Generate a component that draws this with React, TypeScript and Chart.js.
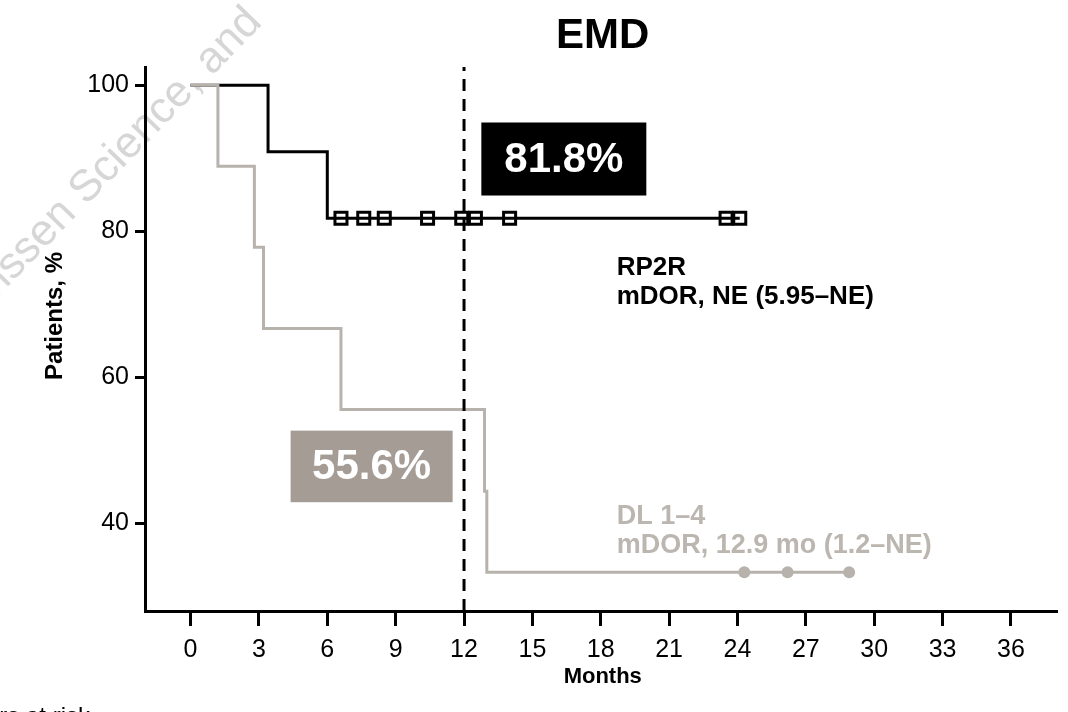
import React, { useEffect, useRef } from "react";
import { Chart, registerables } from "chart.js";

Chart.register(...registerables);

// ---- data ----
const xTickValues = [0, 3, 6, 9, 12, 15, 18, 21, 24, 27, 30, 33, 36];
const yTickValues = [40, 60, 80, 100];

const rp2rTimes = [0, 3.4, 6.0, 24.1];
const rp2rSurv = [100, 90.9, 81.8, 81.8];
const rp2rCensorTimes = [6.6, 7.6, 8.5, 10.4, 11.9, 12.5, 14.0, 23.5, 24.1];
const rp2rCensorSurv = [81.8, 81.8, 81.8, 81.8, 81.8, 81.8, 81.8, 81.8, 81.8];

const dlTimes = [0, 1.2, 2.8, 3.2, 6.6, 12.9, 13.0, 28.9];
const dlSurv = [100, 88.9, 77.8, 66.7, 55.6, 44.4, 33.3, 33.3];
const dlCensorTimes = [24.3, 26.2, 28.9];
const dlCensorSurv = [33.3, 33.3, 33.3];

const landmarkTime = [12, 12];
const landmarkY = [28, 102.5];

const rp2rLandmarkLabel = "81.8%";
const dlLandmarkLabel = "55.6%";
const rp2rLabel = ["RP2R", "mDOR, NE (5.95–NE)"];
const dlLabel = ["DL 1–4", "mDOR, 12.9 mo (1.2–NE)"];
const titleText = "EMD";
const xTitle = "Months";
const yTitle = "Patients, %";
const watermark = "Janssen Science, and";
const atRiskText = "Numbers at risk";

const FONT = "'Liberation Sans', Arial, Helvetica, sans-serif";
const GREY_LINE = "#b8b2ad";
const GREY_BOX = "#a59c96";
const GREY_TEXT = "#bcb6b0";

const toPts = (xs: number[], ys: number[]) => xs.map((x, i) => ({ x, y: ys[i] }));

const textPlugin = {
  id: "textPlugin",
  beforeDraw(chart: any) {
    const ctx = chart.ctx;
    ctx.save();
    ctx.fillStyle = "#ffffff";
    ctx.fillRect(0, 0, chart.width, chart.height);
    // watermark
    ctx.translate(86, 206);
    ctx.rotate(-0.8);
    ctx.font = `44px ${FONT}`;
    ctx.fillStyle = "#d6d6d6";
    ctx.textAlign = "left";
    ctx.textBaseline = "alphabetic";
    const pre = ctx.measureText("Janssen ").width;
    ctx.fillText(watermark, -pre, 0);
    ctx.restore();
  },
  afterDraw(chart: any) {
    const ctx = chart.ctx;
    const xs = chart.scales.x;
    const ys = chart.scales.y;
    const ca = chart.chartArea;
    ctx.save();
    // title
    ctx.fillStyle = "#000";
    ctx.font = `bold 42px ${FONT}`;
    ctx.textAlign = "center";
    ctx.textBaseline = "middle";
    ctx.fillText(titleText, (ca.left + ca.right) / 2 + 2, 36);
    // axis titles
    ctx.font = `bold 22px ${FONT}`;
    ctx.fillText(xTitle, (ca.left + ca.right) / 2 + 2, 677);
    ctx.save();
    ctx.translate(55, 316);
    ctx.rotate(-Math.PI / 2);
    ctx.font = `bold 24px ${FONT}`;
    ctx.fillText(yTitle, 0, 0);
    ctx.restore();
    // at risk
    ctx.font = `24px ${FONT}`;
    ctx.textAlign = "right";
    ctx.textBaseline = "alphabetic";
    ctx.fillText(atRiskText, 90, 724);

    // landmark boxes
    const box = (x0: number, x1: number, y0: number, y1: number, color: string, label: string) => {
      const l = xs.getPixelForValue(x0);
      const r = xs.getPixelForValue(x1);
      const t = ys.getPixelForValue(y0);
      const b = ys.getPixelForValue(y1);
      ctx.fillStyle = color;
      ctx.fillRect(l, t, r - l, b - t);
      ctx.fillStyle = "#fff";
      ctx.font = `bold 42px ${FONT}`;
      ctx.textAlign = "center";
      ctx.textBaseline = "middle";
      ctx.fillText(label, (l + r) / 2, (t + b) / 2 + 1);
    };
    box(12.76, 20.0, 94.9, 84.9, "#000000", rp2rLandmarkLabel);
    box(4.39, 11.5, 52.7, 42.9, GREY_BOX, dlLandmarkLabel);

    // series labels
    const lbl = (lines: string[], xv: number, yv: number, color: string, size: number) => {
      const x = xs.getPixelForValue(xv);
      const y = ys.getPixelForValue(yv);
      ctx.fillStyle = color;
      ctx.font = `bold ${size}px ${FONT}`;
      ctx.textAlign = "left";
      ctx.textBaseline = "middle";
      lines.forEach((s, i) => ctx.fillText(s, x, y + i * 29));
    };
    lbl(rp2rLabel, 18.7, 75.0, "#000", 26);
    lbl(dlLabel, 18.7, 40.9, GREY_TEXT, 27);
    ctx.restore();
  },
};

export default function App() {
  const ref = useRef<HTMLCanvasElement>(null);
  useEffect(() => {
    if (!ref.current) return;
    const chart = new Chart(ref.current, {
      type: "line",
      data: {
        datasets: [
          {
            label: "landmark",
            data: toPts(landmarkTime, landmarkY),
            borderColor: "#000",
            borderWidth: 3,
            borderDash: [12, 8],
            pointRadius: 0,
            order: 0,
          },
          {
            label: "DL censored",
            data: toPts(dlCensorTimes, dlCensorSurv),
            showLine: false,
            pointStyle: "circle",
            pointRadius: 6,
            backgroundColor: GREY_LINE,
            borderColor: GREY_LINE,
            borderWidth: 0,
            order: 1,
          },
          {
            label: "RP2R censored",
            data: toPts(rp2rCensorTimes, rp2rCensorSurv),
            showLine: false,
            pointStyle: "rect",
            pointRadius: 8.5,
            backgroundColor: "rgba(0,0,0,0)",
            borderColor: "#000",
            borderWidth: 3,
            order: 1,
          },
          {
            label: "DL 1–4",
            data: toPts(dlTimes, dlSurv),
            stepped: "before",
            borderColor: GREY_LINE,
            borderWidth: 3,
            pointRadius: 0,
            order: 2,
          },
          {
            label: "RP2R",
            data: toPts(rp2rTimes, rp2rSurv),
            stepped: "before",
            borderColor: "#000",
            borderWidth: 3,
            pointRadius: 0,
            order: 3,
          },
        ],
      },
      options: {
        animation: false,
        responsive: false,
        layout: { padding: { top: 67, right: 8, left: 0, bottom: 0 } },
        plugins: { legend: { display: false }, tooltip: { enabled: false }, title: { display: false } },
        scales: {
          x: {
            type: "linear",
            min: -2,
            max: 38,
            afterBuildTicks: (s: any) => {
              s.ticks = xTickValues.map((v) => ({ value: v }));
            },
            afterFit: (s: any) => {
              s.height = 101;
            },
            ticks: { color: "#000", font: { family: FONT, size: 25 }, padding: 9, maxRotation: 0, autoSkip: false },
            grid: { drawOnChartArea: false, drawTicks: true, tickLength: 15, lineWidth: 3, color: "#000" },
            border: { display: true, color: "#000", width: 3 },
          },
          y: {
            type: "linear",
            min: 28,
            max: 102.5,
            afterBuildTicks: (s: any) => {
              s.ticks = yTickValues.map((v) => ({ value: v }));
            },
            afterFit: (s: any) => {
              s.width = 145;
            },
            ticks: { color: "#000", font: { family: FONT, size: 25 }, padding: 6 },
            grid: { drawOnChartArea: false, drawTicks: true, tickLength: 10, lineWidth: 3, color: "#000" },
            border: { display: true, color: "#000", width: 3 },
          },
        },
      },
      plugins: [textPlugin],
    } as any);
    return () => chart.destroy();
  }, []);
  return (
    <div style={{ position: "absolute", left: 0, top: 0, width: 1068, height: 712, background: "#fff" }}>
      <canvas ref={ref} width={1068} height={712} style={{ display: "block" }} />
    </div>
  );
}
